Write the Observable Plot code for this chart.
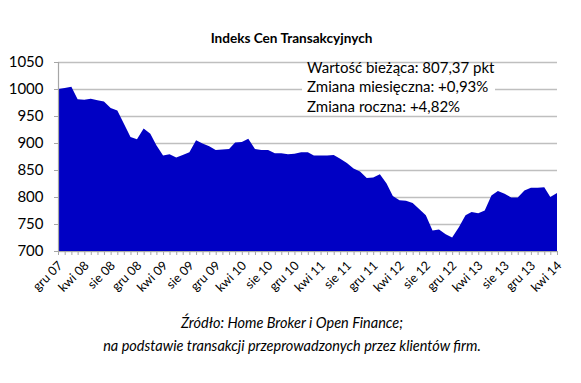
<!DOCTYPE html>
<html><head><meta charset="utf-8">
<script src="https://cdn.jsdelivr.net/npm/d3@7"></script>
<script src="https://cdn.jsdelivr.net/npm/@observablehq/plot@0.6"></script>
<style>
body{margin:0;background:#fff;font-family:Lato,"Open Sans",sans-serif;color:#000}
#wrap{position:relative;width:581px;height:383px;overflow:hidden}
#title{position:absolute;left:0;width:583px;top:30px;text-align:center;font-weight:bold;font-size:13.6px;line-height:16px}
#info{position:absolute;left:302px;top:57.5px;width:193px;font-size:15px;line-height:19.7px}
#info div{padding-left:5px;white-space:nowrap}
#info div.cover{background:#fff}
#caption{position:absolute;left:0;width:584px;top:312px;text-align:center;font-style:italic;font-size:14.5px;line-height:22.7px}
</style></head><body><div id="wrap"></div>
<script>
const title = "Indeks Cen Transakcyjnych";
const infoLines = ["Wartość bieżąca: 807,37 pkt", "Zmiana miesięczna: +0,93%", "Zmiana roczna: +4,82%"];
const captionLines = ["Źródło: Home Broker i Open Finance;", "na podstawie transakcji przeprowadzonych przez klientów firm."];
const startMonth = "2007-12-01";
const monthNames = ["sty","lut","mar","kwi","maj","cze","lip","sie","wrz","paź","lis","gru"];
const yTicks = [700, 750, 800, 850, 900, 950, 1000, 1050];
const values = [
  1000,
  1002, 1004, 981, 980, 982, 979, 977, 965, 960, 936, 911, 907,
  927, 917, 896, 877, 879, 873, 878, 883, 905, 899, 894, 887,
  888, 889, 901, 902, 908, 889, 887, 887, 881, 881, 879, 880,
  883, 883, 877, 877, 877, 878, 871, 863, 853, 847, 835, 836,
  842, 825, 802, 794, 793, 789, 778, 766, 738, 740, 731, 725,
  744, 766, 772, 770, 775, 803, 811, 806, 799, 799, 812, 817,
  817, 818, 800, 807.37
];

const dates = values.map((_, i) => d3.utcMonth.offset(new Date(startMonth), i));
const data = values.map((v, i) => ({date: dates[i], value: v}));
const labelTicks = dates.filter((d, i) => i % 4 === 0);
const fmt = d => monthNames[d.getUTCMonth()] + " " + String(d.getUTCFullYear() % 100).padStart(2, "0");
const yMin = yTicks[0], yMax = yTicks[yTicks.length - 1];

const plot = Plot.plot({
  width: 581, height: 383,
  marginTop: 62, marginBottom: 132, marginLeft: 58, marginRight: 24,
  style: {fontFamily: "Lato, 'Open Sans', sans-serif", color: "#000", background: "transparent"},
  x: {type: "utc", domain: [dates[0], dates[dates.length - 1]]},
  y: {domain: [yMin, yMax]},
  marks: [
    Plot.gridY(yTicks, {stroke: "#bfbfbf", strokeOpacity: 1, strokeWidth: 1.5}),
    Plot.areaY(data, {x: "date", y1: yMin, y2: "value", fill: "#0000c4"}),
    Plot.ruleY([yMin], {stroke: "#a6a6a6", strokeWidth: 1.2}),
    Plot.ruleX([dates[0]], {stroke: "#a6a6a6", strokeWidth: 1.2}),
    Plot.axisY(yTicks, {tickSize: 4, tickPadding: 11, stroke: "#a6a6a6", fill: "#000", fontSize: 15, tickFormat: d => String(d), label: null}),
    Plot.axisX(dates, {tickSize: 4, stroke: "#a6a6a6", tickFormat: () => "", label: null}),
    Plot.axisX(labelTicks, {tickSize: 0, tickPadding: 6, dx: 2, dy: 6, tickRotate: -45, fontSize: 12.5, fill: "#000", tickFormat: fmt, label: null})
  ]
});

const wrap = document.getElementById("wrap");
wrap.appendChild(plot);
const t = document.createElement("div"); t.id = "title"; t.textContent = title; wrap.appendChild(t);
const info = document.createElement("div"); info.id = "info";
infoLines.forEach((s, i) => { const d = document.createElement("div"); d.textContent = s; if (i === 1) d.className = "cover"; info.appendChild(d); });
wrap.appendChild(info);
const cap = document.createElement("div"); cap.id = "caption";
captionLines.forEach(s => { const d = document.createElement("div"); d.textContent = s; cap.appendChild(d); });
wrap.appendChild(cap);
</script></body></html>
